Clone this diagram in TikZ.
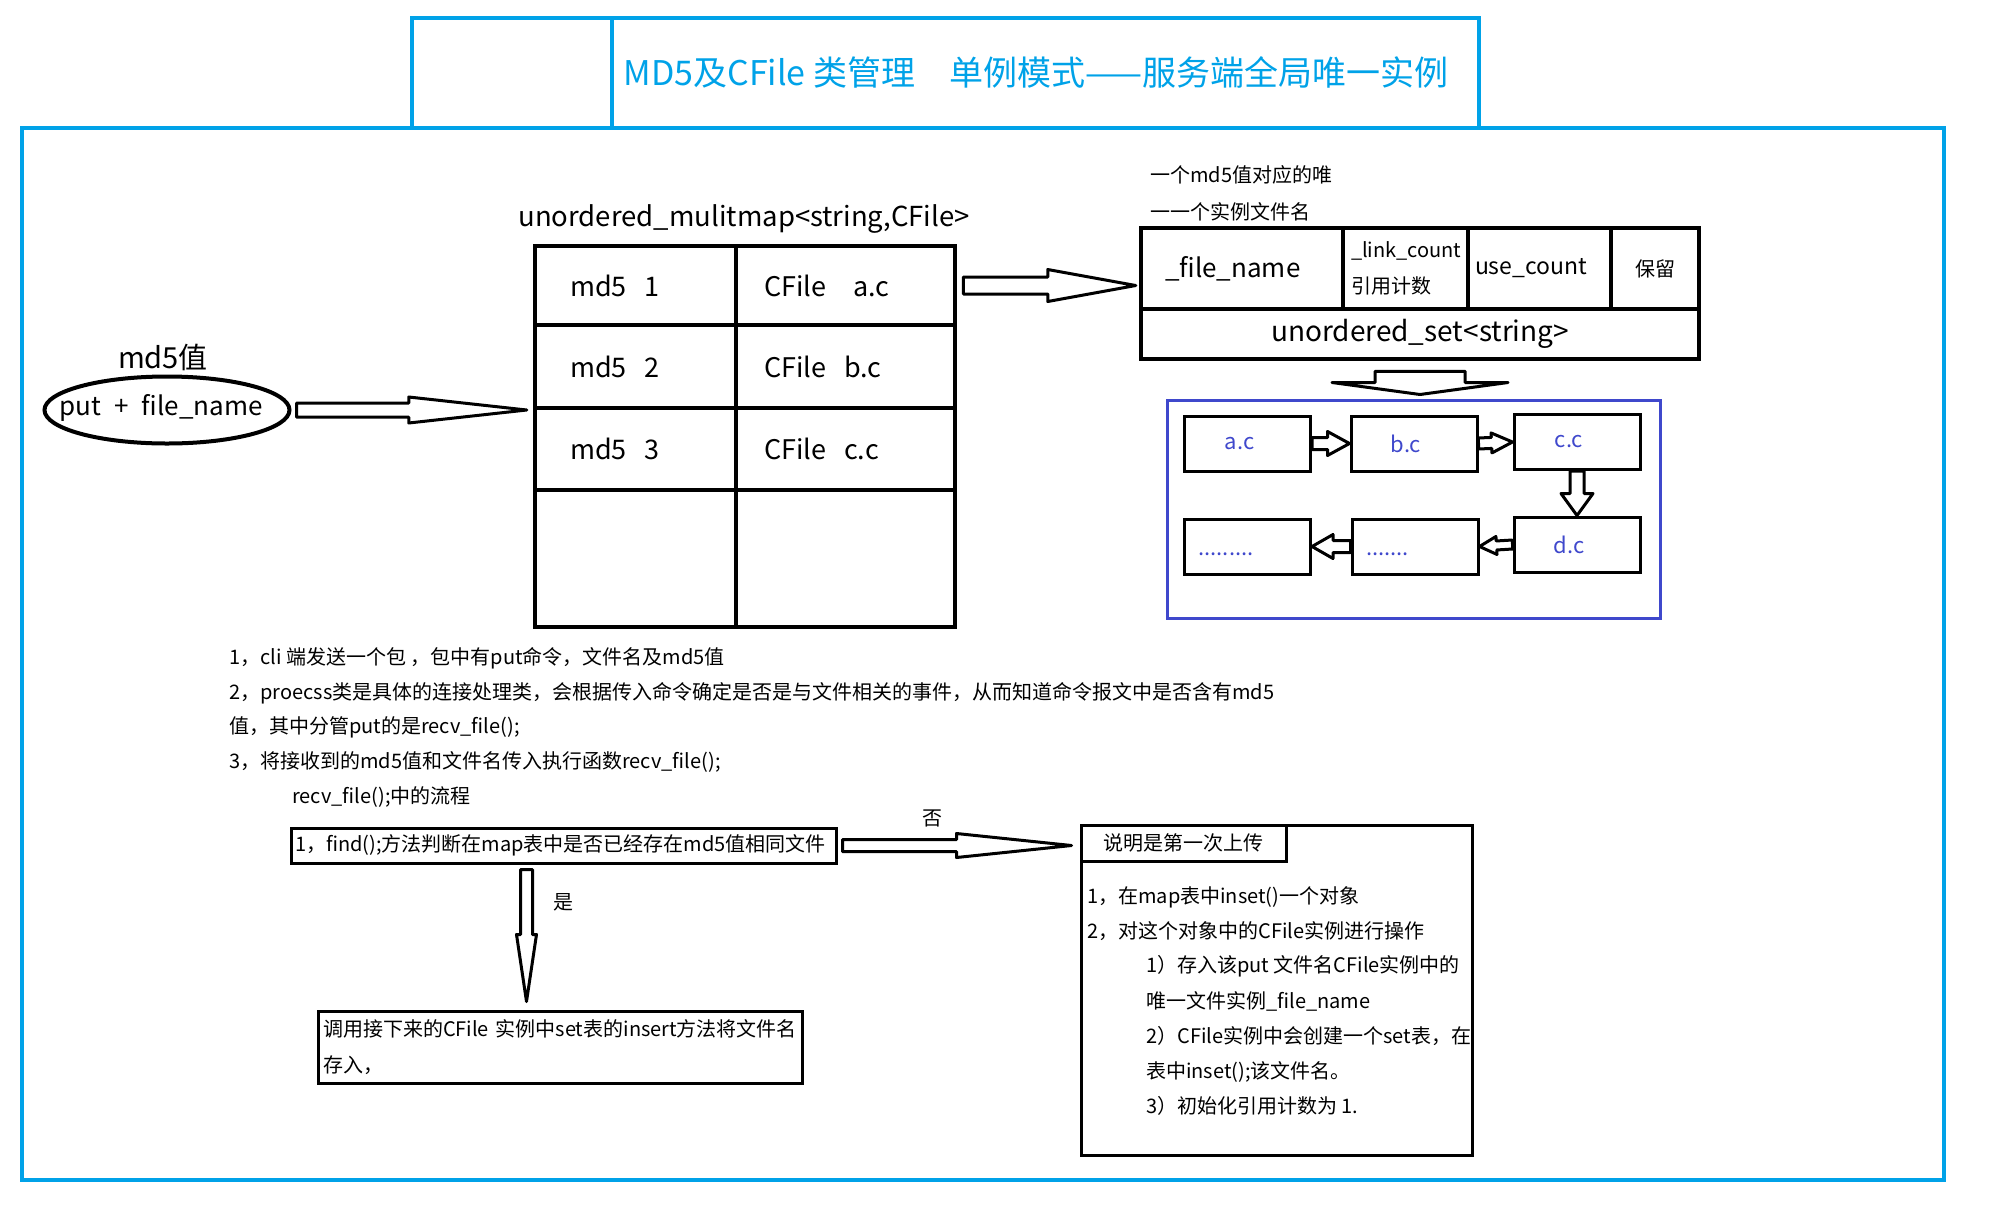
\documentclass[tikz,border=0pt]{standalone}
\usepackage{fontspec}
\setmainfont{Noto Sans CJK SC}
\usetikzlibrary{calc,shapes.geometric}
\definecolor{skyline}{RGB}{0,162,232}
\definecolor{setblue}{RGB}{63,72,204}
\newcommand{\fsz}[1]{\fontsize{#1}{#1}\selectfont}

\begin{document}
\begin{tikzpicture}[x=1pt,y=-1pt,
    frame/.style={draw=skyline, line width=3.5pt},
    cell/.style={draw, line width=4.5pt, inner sep=0pt, font=\fsz{27}},
    keycell/.style={cell, minimum width=201pt, text width=131pt, align=left},
    valcell/.style={cell, minimum width=219pt, text width=163pt, align=left},
    box/.style={draw, line width=3pt, inner sep=0pt, font=\fsz{20}},
    setitem/.style={box, minimum width=126pt, minimum height=55pt, text=setblue, font=\fsz{22}},
    txt/.style={anchor=west, inner sep=0pt, font=\fsz{20}},
    blockarrow/.style args={#1/#2/#3}{draw, line width=3pt, line join=round, to path={
        ($(\tikztostart)!#1pt!90:(\tikztotarget)$)
        -- ($($(\tikztotarget)!#3pt!(\tikztostart)$)!#1pt!90:(\tikztotarget)$)
        -- ($($(\tikztotarget)!#3pt!(\tikztostart)$)!#2pt!90:(\tikztotarget)$)
        -- (\tikztotarget)
        -- ($($(\tikztotarget)!#3pt!(\tikztostart)$)!#2pt!-90:(\tikztotarget)$)
        -- ($($(\tikztotarget)!#3pt!(\tikztostart)$)!#1pt!-90:(\tikztotarget)$)
        -- ($(\tikztostart)!#1pt!-90:(\tikztotarget)$) -- cycle}}]
    \path (0,0) rectangle (2005,1213);

    % frames and title
    \draw[frame] (22,128) rectangle (1944,1180);
    \draw[frame] (412,18) rectangle (1479,128) (612,18) -- (612,128);
    \node[text=skyline, font=\fsz{34}] (title) at (1036,72) {MD5及CFile 类管理\quad 单例模式——服务端全局唯一实例};

    % request
    \node[draw, ellipse, line width=4pt, minimum width=245pt, minimum height=67pt] (ell) at (167,410) {};
    \node[font=\fsz{26}] (put) at (161,408) {put\enspace+\enspace file\_name};
    \node[font=\fsz{29}] (md5) at (163,357) {md5值};

    % multimap table
    \node[font=\fsz{27.5}] (maplbl) at (744,219) {unordered\_mulitmap<string,CFile>};
    \foreach \y/\h/\k/\v [count=\i] in {285.5/79/{md5~~1}/{CFile~~~a.c}, 366.5/83/{md5~~2}/{CFile~~b.c}, 449/82/{md5~~3}/{CFile~~c.c}, 558.5/137/{}/{}}{
      \node[keycell, minimum height=\h pt] (k\i) at (635.5,\y) {\k};
      \node[valcell, minimum height=\h pt] (v\i) at (845.5,\y) {\v};
    }
    \draw[blockarrow=7/13/118] ($(ell.east)+(5,0)$) to ($(ell.east -| k3.west)+(-6,0)$);

    % CFile object
    \node[txt] (note1) at (1150,175) {一个md5值对应的唯};
    \node[txt] (note2) at (1150,212) {一一个实例文件名};
    \node[cell, minimum width=202pt, minimum height=81pt, text width=154pt, align=left, font=\fsz{26}] (fname) at (1242,268.5) {\_file\_name};
    \node[cell, minimum width=125pt, minimum height=81pt, text width=109pt, align=left, font=\fontsize{20}{36}\selectfont] (link) at (1405.5,268.5) {\_link\_count\\引用计数};
    \node[cell, minimum width=143pt, minimum height=81pt, text width=129pt, align=left, font=\fsz{23}] (use) at (1539.5,268.5) {use\_count};
    \node[cell, minimum width=88pt, minimum height=81pt, font=\fsz{20}] (keep) at (1655,268.5) {保留};
    \node[cell, minimum width=558pt, minimum height=50pt, font=\fsz{28}] (set) at (1420,334) {unordered\_set<string>};
    \draw[blockarrow=8.5/16/88] ($(v1.east)+(6,0)$) to ($(v1.east -| fname.west)+(-3,0)$);

    % file name set
    \node[draw=setblue, line width=3pt, minimum width=493pt, minimum height=218pt] (setbox) at (1413.5,509) {};
    \draw[blockarrow=45/88/12] ($(set.south)+(0,10)$) to ($(set.south |- setbox.north)+(0,-4)$);
    \foreach \n/\x/\y/\lbl in {fa/1247.5/443.5/a.c, fb/1414/443.5/b.c, fc/1577/442/\raisebox{-4pt}{c.c}, fd/1577/544.5/d.c}
      \node[setitem] (\n) at (\x,\y) {\hspace*{-16pt}\lbl};
    \node[setitem, text width=98pt, align=left] (fe) at (1415,546.5) {\vphantom{d}.......};
    \node[setitem, text width=98pt, align=left] (ff) at (1247.5,546.5) {\vphantom{d}.........};
    \draw[blockarrow=6/12/22] (fa.east) to (fb.west);
    \draw[blockarrow=5.5/10/21] (fb.east) to (fc.west);
    \draw[blockarrow=7/16/22] (fc.south) to (fd.north);
    \draw[blockarrow=4.5/9/17] (fd.west) to (fe.east);
    \draw[blockarrow=6/12/21] (fe.west) to (ff.east);

    % explanation
    \foreach \x/\y/\s [count=\i] in {229/658/{1，cli 端发送一个包 ，包中有put命令，文件名及md5值}, 229/693/{2，proecss类是具体的连接处理类，会根据传入命令确定是否是与文件相关的事件，从而知道命令报文中是否含有md5}, 229/727/{值，其中分管put的是recv\_file();}, 229/762/{3，将接收到的md5值和文件名传入执行函数recv\_file();}, 292/797/{recv\_file();中的流程}}
      \node[txt] (line\i) at (\x,\y) {\s};

    % recv_file flow
    \node[box, minimum width=545pt, minimum height=35pt, text width=537pt, align=left] (find) at (563.5,845.5) {1，find();方法判断在map表中是否已经存在md5值相同文件};
    \node[box, minimum width=484pt, minimum height=72pt, text width=474pt, align=left, font=\fontsize{20}{36}\selectfont] (ins) at (560,1047) {调用接下来的CFile 实例中set表的insert方法将文件名\\存入，};
    \node[box, minimum width=391pt, minimum height=330pt] (note) at (1276.5,990) {};
    \node[box, minimum width=205pt, minimum height=36pt, anchor=north west] (notehd) at (note.north west) {说明是第一次上传};
    \foreach \x/\y/\s [count=\i] in {1087/897/{1，在map表中inset()一个对象}, 1087/931/{2，对这个对象中的CFile实例进行操作}, 1146/966/{1）存入该put 文件名CFile实例中的}, 1146/1001/{唯一文件实例\_file\_name}, 1146/1036/{2）CFile实例中会创建一个set表，在}, 1146/1072/{表中inset();该文件名。}, 1146/1106/{3）初始化引用计数为 1.}}
      \node[txt] (step\i) at (\x,\y) {\s};

    \draw[blockarrow=6/12/115] ($(find.east)+(5,0)$) to ($(find.east -| note.west)+(-8,0)$);
    \node[font=\fsz{20}] (no) at (932,818) {否};
    \coordinate (yes) at ($(find.south west)+(237,5)$);
    \draw[blockarrow=6/10/67] (yes) to ($(yes |- ins.north)+(0,-8)$);
    \node[font=\fsz{20}] (yeslbl) at (563,902) {是};
\end{tikzpicture}
\end{document}
